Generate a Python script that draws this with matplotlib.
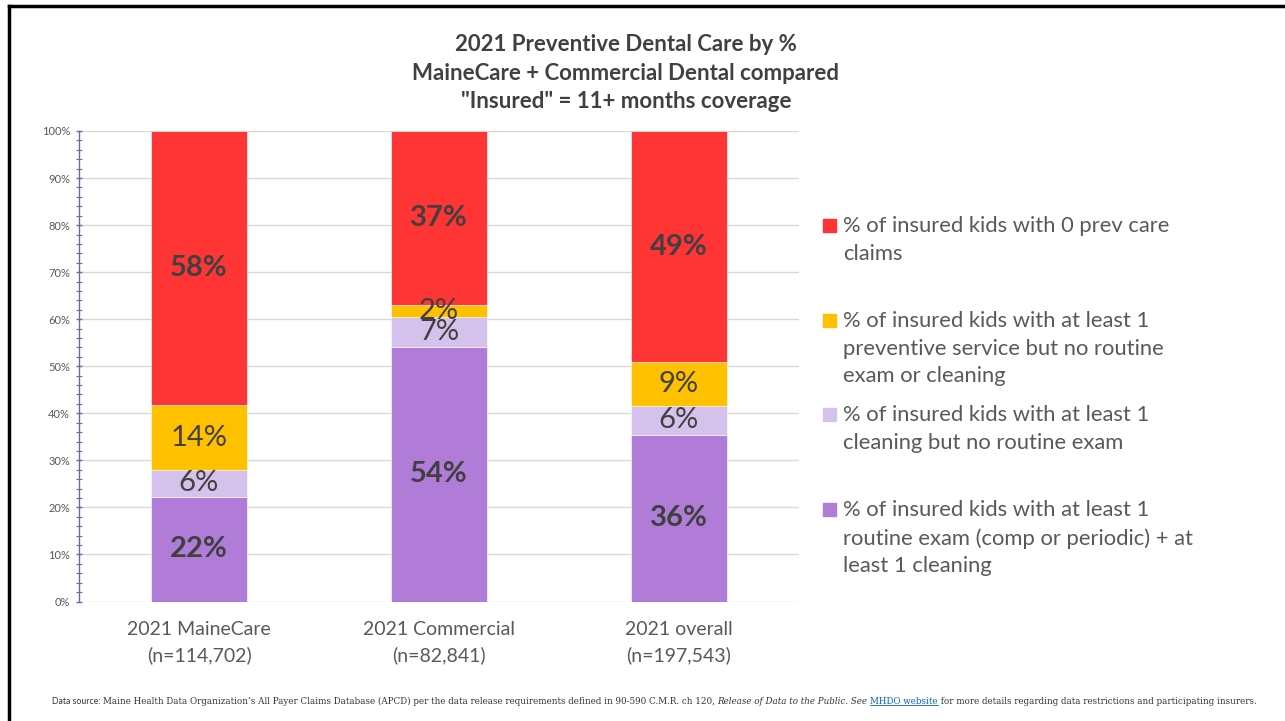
import matplotlib
matplotlib.use("Agg")
import matplotlib.pyplot as plt
from matplotlib.ticker import MultipleLocator, PercentFormatter
from matplotlib.patches import Rectangle
from matplotlib.lines import Line2D

categories = ["2021 MaineCare\n(n=114,702)", "2021 Commercial\n(n=82,841)", "2021 overall\n(n=197,543)"]
routine_exam = [22.3, 54.0, 35.4]
cleaning_only = [5.6, 6.5, 6.2]
preventive_only = [13.9, 2.5, 9.2]
zero_claims = [58.2, 37.0, 49.2]
routine_labels = ["22%", "54%", "36%"]
cleaning_labels = ["6%", "7%", "6%"]
preventive_labels = ["14%", "2%", "9%"]
zero_labels = ["58%", "37%", "49%"]
series_names = [
    "% of insured kids with 0 prev care\nclaims",
    "% of insured kids with at least 1\npreventive service but no routine\nexam or cleaning",
    "% of insured kids with at least 1\ncleaning but no routine exam",
    "% of insured kids with at least 1\nroutine exam (comp or periodic) + at\nleast 1 cleaning",
]
title_lines = "2021 Preventive Dental Care by %\nMaineCare + Commercial Dental compared\n\"Insured\" = 11+ months coverage"

FONT = "Lato"
W, H = 1285, 721
fig = plt.figure(figsize=(W / 100, H / 100), dpi=100)
fig.patch.set_facecolor("white")

ax = fig.add_axes([79 / W, 1 - 601.5 / H, 720 / W, 470.5 / H])
x = list(range(len(categories)))
c_purple, c_light, c_yellow, c_red = "#B07CD8", "#D5C2EC", "#FFC000", "#FF3535"
series = [
    (routine_exam, c_purple, routine_labels, True),
    (cleaning_only, c_light, cleaning_labels, False),
    (preventive_only, c_yellow, preventive_labels, False),
    (zero_claims, c_red, zero_labels, True),
]
bottom = [0.0] * 3
for vals, col, labs, bold in series:
    bars = ax.bar(x, vals, 0.4, bottom=bottom, color=col, edgecolor="white", linewidth=0.4, zorder=3)
    ax.bar_label(bars, labels=labs, label_type="center", fontsize=21,
                 fontweight="bold" if bold else "normal", color="#404040", family=FONT, zorder=4)
    bottom = [b + v for b, v in zip(bottom, vals)]

ax.set_xlim(-0.5, 2.5)
ax.set_ylim(0, 100)
ax.set_xticks(x)
ax.set_xticklabels(categories, fontsize=14, color="#595959", family=FONT, linespacing=1.58)
ax.tick_params(axis="x", length=0, pad=14)
ax.yaxis.set_major_locator(MultipleLocator(10))
ax.yaxis.set_minor_locator(MultipleLocator(2))
ax.yaxis.set_major_formatter(PercentFormatter(decimals=0))
ax.tick_params(axis="y", which="major", direction="inout", length=5, width=1, color="#6A6AA6",
               labelsize=8, labelcolor="#595959", pad=4)
ax.tick_params(axis="y", which="minor", direction="inout", length=4, width=0.8, color="#6A6AA6")
for lab in ax.get_yticklabels():
    lab.set_family(FONT)
ax.grid(axis="y", which="major", color="#D9D9D9", linewidth=1, zorder=0)
for s in ["top", "right", "bottom"]:
    ax.spines[s].set_visible(False)
ax.spines["left"].set_color("#6A6AA6")
ax.spines["left"].set_linewidth(1)

# Title
fig.text(626 / W, 1 - 73 / H, title_lines, ha="center", va="center", fontsize=16,
         fontweight="bold", color="#404040", family=FONT, linespacing=1.42)

# Legend (manual)
legend_tops = [225, 320, 414, 509]
legend_cols = [c_red, c_yellow, c_light, c_purple]
for yy, col, name in zip(legend_tops, legend_cols, series_names):
    fig.patches.append(Rectangle((823 / W, 1 - (yy + 7) / H), 13 / W, 13 / H,
                                 transform=fig.transFigure, color=col))
    fig.text(843 / W, 1 - (yy - 9) / H, name, ha="left", va="top", fontsize=15.8,
             color="#595959", family=FONT, linespacing=1.48)

# Frame
fig.add_artist(Line2D([9 / W, 9 / W], [0, 1 - 6 / H], color="black", linewidth=2.5, transform=fig.transFigure))
fig.add_artist(Line2D([9 / W, 1], [1 - 6 / H, 1 - 6 / H], color="black", linewidth=2.5, transform=fig.transFigure))

# Footer
pieces = [
    ("Data source: ", dict(family=FONT, style="normal", color="#333333")),
    ("Maine Health Data Organization\u2019s All Payer Claims Database (APCD) per the data release requirements defined in 90-590 C.M.R. ch 120, ",
     dict(family="DejaVu Serif", style="normal", color="#333333")),
    ("Release of Data to the Public. See", dict(family="DejaVu Serif", style="italic", color="#333333")),
    (" ", dict(family="DejaVu Serif", style="normal", color="#333333")),
    ("MHDO website", dict(family="DejaVu Serif", style="normal", color="#0563C1")),
    (" for more details regarding data restrictions and participating insurers.",
     dict(family="DejaVu Serif", style="normal", color="#333333")),
]
fig.canvas.draw()
renderer = fig.canvas.get_renderer()
xpos = 52
fy = 1 - 701 / H
for txt, kw in pieces:
    t = fig.text(xpos / W, fy, txt, ha="left", va="center", fontsize=6.3, **kw)
    bb = t.get_window_extent(renderer=renderer)
    if txt == "MHDO website":
        fig.add_artist(Line2D([bb.x0 / W, bb.x1 / W], [(bb.y0 + 1) / H, (bb.y0 + 1) / H],
                              color="#0563C1", linewidth=0.6, transform=fig.transFigure))
    xpos = bb.x1

fig.savefig("out.png", dpi=100, facecolor="white")
